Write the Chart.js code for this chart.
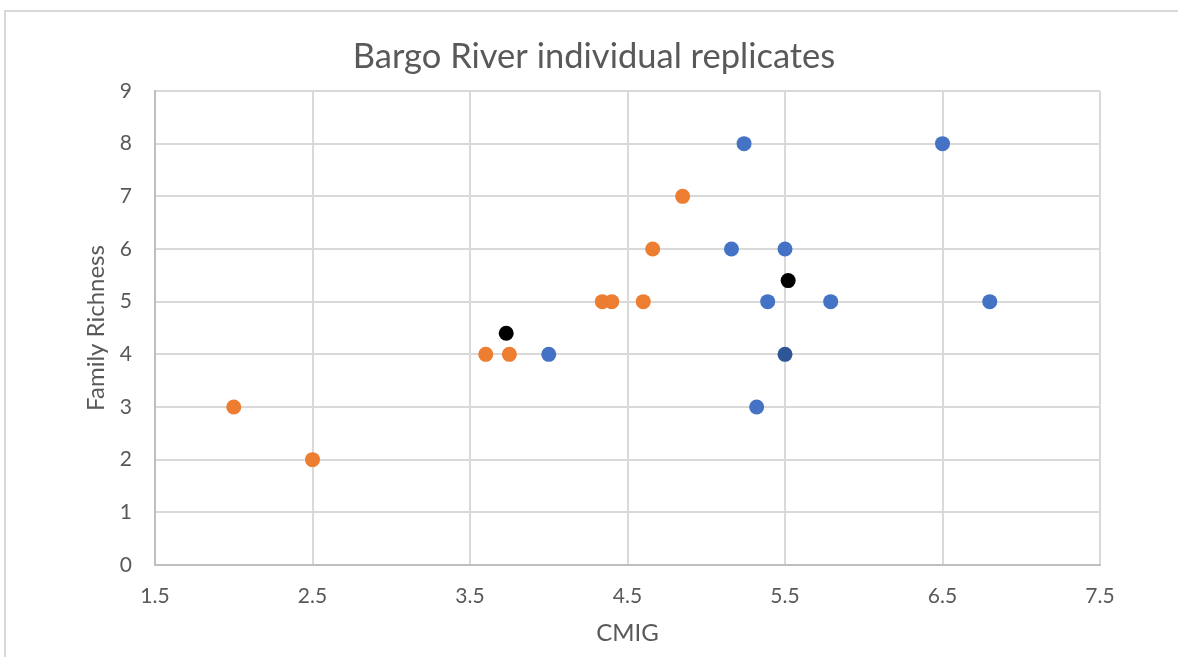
<!DOCTYPE html>
<html>
<head>
<meta charset="utf-8">
<title>Bargo River individual replicates</title>
<script src="https://cdn.jsdelivr.net/npm/chart.js@4/dist/chart.umd.min.js"></script>
<style>
  html, body { margin: 0; padding: 0; background: #ffffff; overflow: hidden; }
  #wrap { position: relative; width: 1178px; height: 657px; }
  #frame {
    position: absolute; left: 4px; top: 10px; width: 1300px; height: 800px;
    border-left: 2px solid #d9d9d9; border-top: 2px solid #d9d9d9;
    pointer-events: none;
  }
  #chart { position: absolute; left: 0; top: 0; }
</style>
</head>
<body>
<div id="wrap">
  <div id="frame"></div>
  <canvas id="chart" width="1178" height="657"></canvas>
</div>
<script>
// Replicate samples, CMIG (x) against family richness (y)
const blueCMIG     = [5.24, 6.5, 5.16, 5.5, 5.39, 5.79, 6.8, 4.0, 5.32];
const blueRichness = [8, 8, 6, 6, 5, 5, 5, 4, 3];

const darkBlueCMIG     = [5.5];
const darkBlueRichness = [4];

const orangeCMIG     = [2.0, 2.5, 3.6, 3.75, 4.34, 4.4, 4.6, 4.66, 4.85];
const orangeRichness = [3, 2, 4, 4, 5, 5, 5, 6, 7];

// Group means
const meanCMIG     = [3.73, 5.52];
const meanRichness = [4.4, 5.4];

// Axis ticks
const xTickValues = [1.5, 2.5, 3.5, 4.5, 5.5, 6.5, 7.5];
const yTickValues = [0, 1, 2, 3, 4, 5, 6, 7, 8, 9];

const toPoints = (xs, ys) => xs.map((x, i) => ({ x: x, y: ys[i] }));

const textColor = '#595959';
const gridColor = '#d9d9d9';
const axisColor = '#bfbfbf';
const fontFamily = 'Lato, "Open Sans", sans-serif';

function series(label, xs, ys, color) {
  return {
    label: label,
    data: toPoints(xs, ys),
    backgroundColor: color,
    borderColor: color,
    pointRadius: 7.5,
    pointBorderWidth: 0,
    pointHoverRadius: 7.5,
    showLine: false
  };
}

new Chart(document.getElementById('chart'), {
  type: 'scatter',
  data: {
    datasets: [
      series('Blue replicates', blueCMIG, blueRichness, '#4472c4'),
      series('Blue replicate (overlap)', darkBlueCMIG, darkBlueRichness, '#2f5597'),
      series('Orange replicates', orangeCMIG, orangeRichness, '#ed7d31'),
      series('Means', meanCMIG, meanRichness, '#000000')
    ]
  },
  options: {
    responsive: false,
    animation: false,
    events: [],
    layout: { padding: { left: 10, right: 0, top: 0, bottom: 0 } },
    plugins: {
      legend: { display: false },
      tooltip: { enabled: false },
      title: {
        display: true,
        text: 'Bargo River individual replicates',
        color: textColor,
        font: { family: fontFamily, size: 34.5, weight: 'normal', lineHeight: 1.2 },
        padding: { top: 36, bottom: 13.6 }
      }
    },
    scales: {
      x: {
        type: 'linear',
        min: 1.5,
        max: 7.5,
        afterBuildTicks: s => { s.ticks = xTickValues.map(v => ({ value: v })); },
        afterFit: s => { s.height = 92; },
        ticks: {
          color: textColor,
          font: { family: fontFamily, size: 21 },
          padding: 19,
          maxRotation: 0,
          autoSkip: false,
          callback: v => Number(v).toFixed(1)
        },
        grid: { color: gridColor, lineWidth: 2, drawTicks: false },
        border: { display: true, color: axisColor, width: 2 },
        title: {
          display: true,
          text: 'CMIG',
          color: textColor,
          font: { family: fontFamily, size: 24, lineHeight: 1.2 },
          padding: { top: 0, bottom: 9 }
        }
      },
      y: {
        type: 'linear',
        position: 'left',
        min: 0,
        max: 9,
        afterBuildTicks: s => { s.ticks = yTickValues.map(v => ({ value: v })); },
        afterFit: s => { s.width = 145; },
        ticks: {
          color: textColor,
          font: { family: fontFamily, size: 21 },
          padding: 23,
          autoSkip: false,
          callback: v => String(v)
        },
        grid: { color: gridColor, lineWidth: 2, drawTicks: false },
        border: { display: true, color: axisColor, width: 2 },
        title: {
          display: true,
          text: 'Family Richness',
          color: textColor,
          font: { family: fontFamily, size: 24, lineHeight: 1.2 },
          padding: { top: 72, bottom: 0 }
        }
      },
      yRight: {
        type: 'linear',
        position: 'right',
        display: true,
        afterFit: s => { s.width = 78; },
        ticks: { display: false },
        grid: { display: false, drawTicks: false },
        border: { display: false }
      }
    }
  }
});
</script>
</body>
</html>
